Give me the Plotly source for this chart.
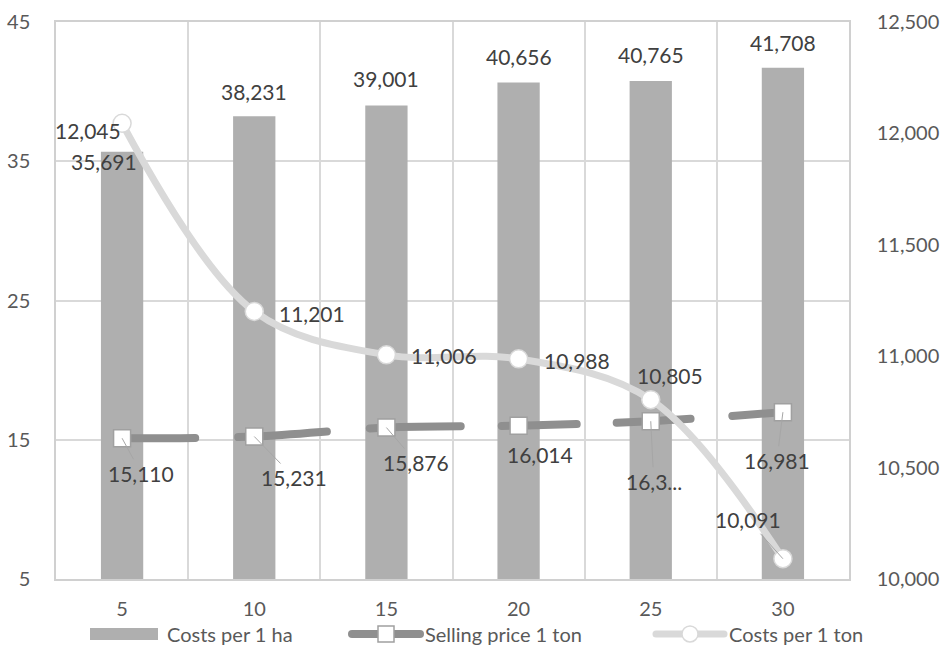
import plotly.graph_objects as go

# ---- data ----
years = ["5", "10", "15", "20", "25", "30"]
cost_per_ha = [35691, 38231, 39001, 40656, 40765, 41708]      # plotted in thousands on left axis
selling_price = [15110, 15231, 15876, 16014, 16330, 16981]    # plotted in thousands on left axis
cost_per_ton = [12045, 11201, 11006, 10988, 10805, 10091]     # right axis

names = ["Costs per 1 ha", "Selling price 1 ton", "Costs per 1 ton"]


def fmt(v):
    return f"{v:,}"


sp_text = [fmt(v) for v in selling_price]
sp_text[4] = sp_text[4][:4] + "..."   # label clipped in its box

# ---- styles ----
FONT = "Lato"
TXT = "#404040"
AX = "#595959"
GRID = "#d9d9d9"
BAR = "#afafaf"
DARK = "#8f8f8f"
LIGHT = "#d9d9d9"
LEADER = "#a6a6a6"
LABEL_SIZE = 21

# label offsets in pixels (dx right, dy up)
bar_off = [(-18, -10), (0, 25), (0, 27), (0, 26), (0, 26), (0, 25)]
ton_off = [(-34, -7), (58, -2), (58, -1), (58, -2), (19, 24), None]
ton_leader = {5: (-35, 39)}
sp_leader = {0: (19, -35), 1: (40, -41), 2: (30, -35), 4: (3, -60), 5: (-6, -48)}
sp_off = {3: (21, -29)}

# left edges of the three legend blocks, in pixels of the 941px page
legend_left = [89, 347, 651]

fig = go.Figure()

fig.add_trace(go.Bar(
    x=years, y=[v / 1000 for v in cost_per_ha], name=names[0],
    marker=dict(color=BAR, line=dict(width=0)), yaxis="y", legend="legend",
))

fig.add_trace(go.Scatter(
    x=years, y=[v / 1000 for v in selling_price], name=names[1],
    mode="lines+markers", yaxis="y", legend="legend2",
    line=dict(color=DARK, width=8, shape="spline",
              dash="73px,43px,89px,43px,91px,41px,75px,40px,74px,42px,60px,200px"),
    marker=dict(symbol="square", size=17, color="white",
                line=dict(color="#a0a0a0", width=1.5)),
))

fig.add_trace(go.Scatter(
    x=years, y=cost_per_ton, name=names[2],
    mode="lines+markers", yaxis="y2", legend="legend3",
    line=dict(color=LIGHT, width=7, shape="spline"),
    marker=dict(symbol="circle", size=18, color="white",
                line=dict(color=LIGHT, width=1.5)),
))

ann = []
lab_font = dict(family=FONT, size=LABEL_SIZE, color=TXT)


def leader_label(i, y, yref, text, off):
    ax, up = off
    return dict(x=i, y=y, xref="x", yref=yref, text=text,
                showarrow=True, arrowhead=0, arrowwidth=1, arrowcolor=LEADER,
                ax=ax, ay=-up, standoff=0, font=lab_font)


def plain_label(i, y, yref, text, off):
    dx, dy = off
    return dict(x=i, y=y, xref="x", yref=yref, text=text,
                showarrow=False, xshift=dx, yshift=dy, font=lab_font)


# annotations on a category axis take the category's index
for i, v in enumerate(cost_per_ha):
    ann.append(plain_label(i, v / 1000, "y", fmt(v), bar_off[i]))

for i, v in enumerate(cost_per_ton):
    if i in ton_leader:
        ann.append(leader_label(i, v, "y2", fmt(v), ton_leader[i]))
    else:
        ann.append(plain_label(i, v, "y2", fmt(v), ton_off[i]))

for i, v in enumerate(selling_price):
    if i in sp_leader:
        ann.append(leader_label(i, v / 1000, "y", sp_text[i], sp_leader[i]))
    else:
        ann.append(plain_label(i, v / 1000, "y", sp_text[i], sp_off[i]))

tick_font = dict(family=FONT, size=20, color=AX)


def legend_box(left):
    return dict(orientation="h", xref="container", yref="container",
                x=left / 941, xanchor="left", y=0.0201, yanchor="middle",
                font=dict(family=FONT, size=20, color=AX),
                itemwidth=68, bgcolor="rgba(0,0,0,0)")


fig.update_layout(
    width=941, height=647,
    margin=dict(l=56, r=92, t=22, b=68, autoexpand=False),
    paper_bgcolor="white", plot_bgcolor="white",
    font=dict(family=FONT, color=AX),
    bargap=0.68,
    showlegend=True,
    legend=legend_box(legend_left[0]),
    legend2=legend_box(legend_left[1]),
    legend3=legend_box(legend_left[2]),
    xaxis=dict(type="category", range=[-0.5, len(years) - 0.5], autorange=False,
               tickson="boundaries", showgrid=True, gridcolor=GRID,
               gridwidth=1.5, showline=True, linecolor="#d0d0d0", linewidth=1.5,
               mirror=True, ticks="", tickfont=tick_font, ticklabelstandoff=11,
               tickangle=0, zeroline=False),
    yaxis=dict(range=[5, 45], tick0=5, dtick=10, showgrid=True, gridcolor=GRID,
               gridwidth=1.5, showline=True, linecolor="#d0d0d0", linewidth=1.5,
               ticks="", tickfont=tick_font, ticklabelstandoff=20, zeroline=False),
    yaxis2=dict(range=[10000, 12500], dtick=500, tickformat=",", overlaying="y",
                side="right", showgrid=False, showline=True, linecolor="#d0d0d0",
                linewidth=1.5, ticks="", tickfont=tick_font, ticklabelstandoff=22,
                zeroline=False),
    annotations=ann,
)

# round line ends, and a wide swatch for the bar series in its legend
finish = """
var gd = document.getElementById('{plot_id}');
function finish(){
  gd.querySelectorAll('path.js-line').forEach(function(p){ p.style.strokeLinecap = 'round'; });
  gd.querySelectorAll('.legendpoints path').forEach(function(p){
    var d = (p.getAttribute('d') || '').replace(/\\s/g, '');
    if (p.classList.contains('legendbar') || d === 'M6,6H-6V-6H6Z') {
      p.setAttribute('d', 'M-38,6H30V-6H-38Z');
    }
  });
}
finish();
setTimeout(finish, 50);
setTimeout(finish, 300);
gd.on('plotly_afterplot', finish);
"""

fig.write_html("out.html", post_script=finish)
